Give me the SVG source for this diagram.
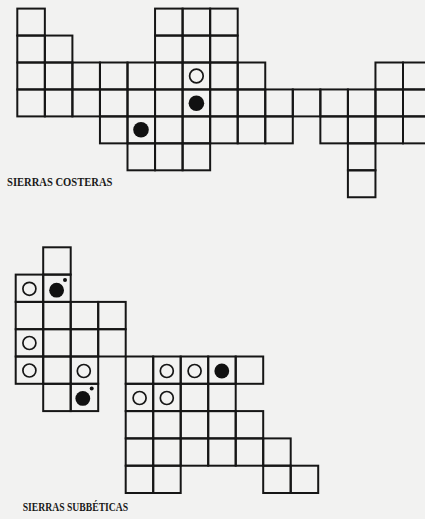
<svg xmlns="http://www.w3.org/2000/svg" width="425" height="519" viewBox="0 0 425 519">
<style>
.bg{fill:#f2f2f1}
.t rect{fill:none;stroke:#161616;stroke-width:2}
.b rect{fill:none;stroke:#161616;stroke-width:2}
.o{fill:none;stroke:#161616;stroke-width:1.7}
.f{fill:#111}
.lbl{font-family:"Liberation Serif",serif;font-weight:bold;font-size:11.5px;fill:#1a1a1a}
</style>
<rect class="bg" x="0" y="0" width="425" height="519"/>
<g id="sierras-costeras" class="t">
<!-- row 0 -->
<rect x="17.3" y="8.6" width="27.55" height="26.95"/>
<rect x="155.05" y="8.6" width="27.55" height="26.95"/>
<rect x="182.6" y="8.6" width="27.55" height="26.95"/>
<rect x="210.15" y="8.6" width="27.55" height="26.95"/>
<!-- row 1 -->
<rect x="17.3" y="35.55" width="27.55" height="26.95"/>
<rect x="44.85" y="35.55" width="27.55" height="26.95"/>
<rect x="155.05" y="35.55" width="27.55" height="26.95"/>
<rect x="182.6" y="35.55" width="27.55" height="26.95"/>
<rect x="210.15" y="35.55" width="27.55" height="26.95"/>
<!-- row 2 -->
<rect x="17.3" y="62.5" width="27.55" height="26.95"/>
<rect x="44.85" y="62.5" width="27.55" height="26.95"/>
<rect x="72.4" y="62.5" width="27.55" height="26.95"/>
<rect x="99.95" y="62.5" width="27.55" height="26.95"/>
<rect x="127.5" y="62.5" width="27.55" height="26.95"/>
<rect x="155.05" y="62.5" width="27.55" height="26.95"/>
<rect x="182.6" y="62.5" width="27.55" height="26.95"/>
<rect x="210.15" y="62.5" width="27.55" height="26.95"/>
<rect x="237.7" y="62.5" width="27.55" height="26.95"/>
<rect x="375.45" y="62.5" width="27.55" height="26.95"/>
<rect x="403" y="62.5" width="27.55" height="26.95"/>
<!-- row 3 -->
<rect x="17.3" y="89.45" width="27.55" height="26.95"/>
<rect x="44.85" y="89.45" width="27.55" height="26.95"/>
<rect x="72.4" y="89.45" width="27.55" height="26.95"/>
<rect x="99.95" y="89.45" width="27.55" height="26.95"/>
<rect x="127.5" y="89.45" width="27.55" height="26.95"/>
<rect x="155.05" y="89.45" width="27.55" height="26.95"/>
<rect x="182.6" y="89.45" width="27.55" height="26.95"/>
<rect x="210.15" y="89.45" width="27.55" height="26.95"/>
<rect x="237.7" y="89.45" width="27.55" height="26.95"/>
<rect x="265.25" y="89.45" width="27.55" height="26.95"/>
<rect x="292.8" y="89.45" width="27.55" height="26.95"/>
<rect x="320.35" y="89.45" width="27.55" height="26.95"/>
<rect x="347.9" y="89.45" width="27.55" height="26.95"/>
<rect x="375.45" y="89.45" width="27.55" height="26.95"/>
<rect x="403" y="89.45" width="27.55" height="26.95"/>
<!-- row 4 -->
<rect x="99.95" y="116.4" width="27.55" height="26.95"/>
<rect x="127.5" y="116.4" width="27.55" height="26.95"/>
<rect x="155.05" y="116.4" width="27.55" height="26.95"/>
<rect x="182.6" y="116.4" width="27.55" height="26.95"/>
<rect x="210.15" y="116.4" width="27.55" height="26.95"/>
<rect x="237.7" y="116.4" width="27.55" height="26.95"/>
<rect x="265.25" y="116.4" width="27.55" height="26.95"/>
<rect x="320.35" y="116.4" width="27.55" height="26.95"/>
<rect x="347.9" y="116.4" width="27.55" height="26.95"/>
<rect x="375.45" y="116.4" width="27.55" height="26.95"/>
<rect x="403" y="116.4" width="27.55" height="26.95"/>
<!-- row 5 -->
<rect x="127.5" y="143.35" width="27.55" height="26.95"/>
<rect x="155.05" y="143.35" width="27.55" height="26.95"/>
<rect x="182.6" y="143.35" width="27.55" height="26.95"/>
<rect x="347.9" y="143.35" width="27.55" height="26.95"/>
<!-- row 6 -->
<rect x="347.9" y="170.3" width="27.55" height="26.95"/>
<circle class="o" cx="196.4" cy="76" r="6.8"/>
<circle class="f" cx="196.4" cy="103.2" r="7.8"/>
<circle class="f" cx="141" cy="129.8" r="7.8"/>
</g>
<g id="sierras-subbeticas" class="b">
<!-- row 0 -->
<rect x="43.2" y="247.3" width="27.5" height="27.3"/>
<!-- row 1 -->
<rect x="15.7" y="274.6" width="27.5" height="27.3"/>
<rect x="43.2" y="274.6" width="27.5" height="27.3"/>
<!-- row 2 -->
<rect x="15.7" y="301.9" width="27.5" height="27.3"/>
<rect x="43.2" y="301.9" width="27.5" height="27.3"/>
<rect x="70.7" y="301.9" width="27.5" height="27.3"/>
<rect x="98.2" y="301.9" width="27.5" height="27.3"/>
<!-- row 3 -->
<rect x="15.7" y="329.2" width="27.5" height="27.3"/>
<rect x="43.2" y="329.2" width="27.5" height="27.3"/>
<rect x="70.7" y="329.2" width="27.5" height="27.3"/>
<rect x="98.2" y="329.2" width="27.5" height="27.3"/>
<!-- row 4 -->
<rect x="15.7" y="356.5" width="27.5" height="27.3"/>
<rect x="43.2" y="356.5" width="27.5" height="27.3"/>
<rect x="70.7" y="356.5" width="27.5" height="27.3"/>
<rect x="125.7" y="356.5" width="27.5" height="27.3"/>
<rect x="153.2" y="356.5" width="27.5" height="27.3"/>
<rect x="180.7" y="356.5" width="27.5" height="27.3"/>
<rect x="208.2" y="356.5" width="27.5" height="27.3"/>
<rect x="235.7" y="356.5" width="27.5" height="27.3"/>
<!-- row 5 -->
<rect x="43.2" y="383.8" width="27.5" height="27.3"/>
<rect x="70.7" y="383.8" width="27.5" height="27.3"/>
<rect x="125.7" y="383.8" width="27.5" height="27.3"/>
<rect x="153.2" y="383.8" width="27.5" height="27.3"/>
<rect x="180.7" y="383.8" width="27.5" height="27.3"/>
<rect x="208.2" y="383.8" width="27.5" height="27.3"/>
<!-- row 6 -->
<rect x="125.7" y="411.1" width="27.5" height="27.3"/>
<rect x="153.2" y="411.1" width="27.5" height="27.3"/>
<rect x="180.7" y="411.1" width="27.5" height="27.3"/>
<rect x="208.2" y="411.1" width="27.5" height="27.3"/>
<rect x="235.7" y="411.1" width="27.5" height="27.3"/>
<!-- row 7 -->
<rect x="125.7" y="438.4" width="27.5" height="27.3"/>
<rect x="153.2" y="438.4" width="27.5" height="27.3"/>
<rect x="180.7" y="438.4" width="27.5" height="27.3"/>
<rect x="208.2" y="438.4" width="27.5" height="27.3"/>
<rect x="235.7" y="438.4" width="27.5" height="27.3"/>
<rect x="263.2" y="438.4" width="27.5" height="27.3"/>
<!-- row 8 -->
<rect x="125.7" y="465.7" width="27.5" height="27.3"/>
<rect x="153.2" y="465.7" width="27.5" height="27.3"/>
<rect x="263.2" y="465.7" width="27.5" height="27.3"/>
<rect x="290.7" y="465.7" width="27.5" height="27.3"/>
<circle class="o" cx="29.4" cy="288.8" r="6.5"/>
<circle class="f" cx="56.6" cy="290.2" r="7.4"/>
<circle class="f" cx="65" cy="280" r="2"/>
<circle class="o" cx="29.4" cy="343" r="6.5"/>
<circle class="o" cx="29.4" cy="370.5" r="6.5"/>
<circle class="o" cx="83.8" cy="371" r="6.5"/>
<circle class="o" cx="166.8" cy="371" r="6.5"/>
<circle class="o" cx="194.6" cy="371" r="6.5"/>
<circle class="f" cx="221.8" cy="371" r="7.4"/>
<circle class="f" cx="82.8" cy="398.4" r="7.4"/>
<circle class="f" cx="91.7" cy="388.4" r="2"/>
<circle class="o" cx="139.6" cy="398" r="6.5"/>
<circle class="o" cx="166.8" cy="398" r="6.5"/>
</g>
<g id="labels">
<text class="lbl" x="7" y="185.5" textLength="105.5" lengthAdjust="spacingAndGlyphs">SIERRAS COSTERAS</text>
<text class="lbl" x="22.7" y="511" textLength="105.5" lengthAdjust="spacingAndGlyphs">SIERRAS SUBBÉTICAS</text>
</g>
</svg>
